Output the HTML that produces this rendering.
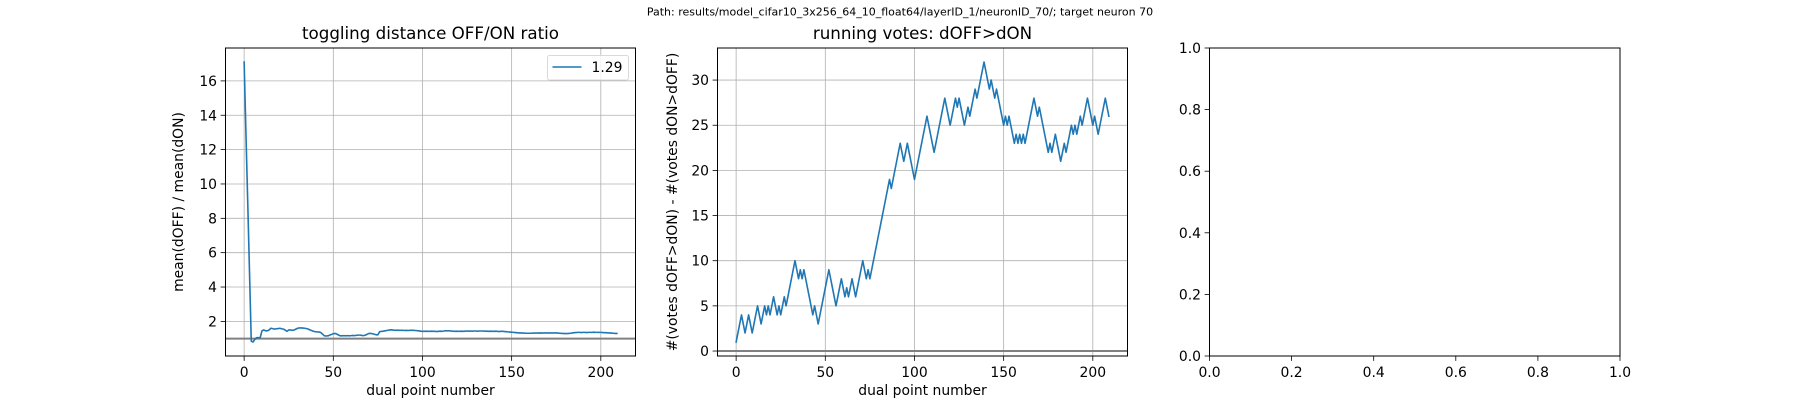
<!DOCTYPE html>
<html><head><meta charset="utf-8"><style>
html,body{margin:0;padding:0;background:#fff}
svg{display:block;font-family:"DejaVu Sans","Liberation Sans",sans-serif}
</style></head><body>
<svg id="fig" width="1800" height="400" viewBox="0 0 1800 400" xmlns="http://www.w3.org/2000/svg">
<rect width="1800" height="400" fill="#fff"/>
<text x="900" y="15.5" font-size="11" text-anchor="middle" fill="#000">Path: results/model_cifar10_3x256_64_10_float64/layerID_1/neuronID_70/; target neuron 70</text>
</svg>
<script>
const ratioValues = [17.1,13.0,9.0,4.9,0.85,
0.8,0.95,1.05,1.05,1.05, 1.45,1.5,1.45,1.45,1.5, 1.6,1.58,1.55,1.57,1.58,
1.6,1.57,1.55,1.5,1.42, 1.5,1.5,1.48,1.5,1.55, 1.6,1.62,1.62,1.61,1.6,
1.58,1.55,1.5,1.46,1.42, 1.4,1.39,1.38,1.35,1.25, 1.16,1.15,1.16,1.2,1.24,
1.28,1.3,1.26,1.2,1.16, 1.16,1.17,1.16,1.17,1.16, 1.17,1.18,1.17,1.19,1.2,
1.2,1.18,1.17,1.2,1.25, 1.3,1.3,1.28,1.25,1.22, 1.22,1.4,1.42,1.43,1.45,
1.47,1.49,1.51,1.5,1.49, 1.48,1.49,1.48,1.48,1.48, 1.47,1.48,1.47,1.48,1.48,
1.48,1.47,1.46,1.45,1.43, 1.42,1.42,1.43,1.42,1.42, 1.43,1.42,1.42,1.41,1.42,
1.43,1.42,1.44,1.45,1.45, 1.45,1.44,1.43,1.42,1.43, 1.42,1.42,1.43,1.42,1.43,
1.44,1.43,1.44,1.43,1.44, 1.44,1.43,1.44,1.44,1.44, 1.43,1.43,1.42,1.43,1.42,
1.42,1.43,1.42,1.41,1.42, 1.42,1.41,1.4,1.39,1.38, 1.37,1.36,1.35,1.34,1.33,
1.33,1.32,1.32,1.31,1.31, 1.31,1.31,1.32,1.32,1.32, 1.32,1.33,1.32,1.33,1.33,
1.33,1.32,1.33,1.33,1.33, 1.33,1.32,1.31,1.3,1.3, 1.29,1.29,1.3,1.31,1.33,
1.34,1.35,1.36,1.36,1.35, 1.36,1.36,1.35,1.36,1.36, 1.36,1.37,1.36,1.36,1.36,
1.36,1.35,1.34,1.34,1.33, 1.33,1.32,1.31,1.3,1.3];
const voteValues = [1,2,3,4,3,2,3,4,3,2,3,4,5,4,3,4,5,4,5,4,5,6,5,4,5,4,5,6,5,
6,7,8,9,10,9,8,9,8,9,8,7,6,5,4,5,4,3,4,5,6,7,8,9,8,7,6,5,6,7,8,7,6,7,6,7,8,7,6,
7,8,9,10,9,8,9,8,9,10,11,12,13,14,15,16,17,18,19,18,19,20,21,22,23,22,21,22,23,
22,21,20,19,20,21,22,23,24,25,26,25,24,23,22,23,24,25,26,27,28,27,26,25,26,27,28,
27,28,27,26,25,26,27,26,27,28,29,28,29,30,31,32,31,30,29,30,29,28,29,28,27,26,25,
26,25,26,25,24,23,24,23,24,23,24,23,24,25,26,27,28,27,26,27,26,25,24,23,22,23,22,
23,24,23,22,21,22,23,22,23,24,25,24,25,24,25,26,25,26,27,28,27,26,25,26,25,24,
25,26,27,28,27,26];
const ratioTicks = [2,4,6,8,10,12,14,16];
const voteTicks = [0,5,10,15,20,25,30];
const xTicks = [0,50,100,150,200];
const emptyTicks = [0,0.2,0.4,0.6,0.8,1.0];
const emptyTickLabels = ["0.0","0.2","0.4","0.6","0.8","1.0"];
const legendLabel = "1.29";

const NS="http://www.w3.org/2000/svg";
const fig=document.getElementById('fig');
function mk(tag,attrs,parent){const e=document.createElementNS(NS,tag);for(const k in attrs)e.setAttribute(k,attrs[k]);(parent||fig).appendChild(e);return e;}
function txt(s,attrs,parent){const e=mk('text',attrs,parent);e.textContent=s;return e;}
const TOP=48,BOT=356;
function axes(name,L,R,xmin,xmax,ymin,ymax){
  const g=mk('g',{});
  
  
  return {g,L,R,sx:v=>L+(v-xmin)/(xmax-xmin)*(R-L),sy:v=>BOT-(v-ymin)/(ymax-ymin)*(BOT-TOP)};
}
function frame(a){
  const r=mk('rect',{x:a.L,y:TOP,width:a.R-a.L,height:BOT-TOP,fill:'none',stroke:'#000','stroke-width':1},a.g);
  
  
}
function xticks(a,ticks,labels,grid){
  ticks.forEach((t,i)=>{const x=a.sx(t);
    if(grid){const gl=mk('line',{x1:x,x2:x,y1:TOP,y2:BOT,stroke:'#b0b0b0','stroke-width':0.8},a.g);
      
      }
    mk('line',{x1:x,x2:x,y1:BOT,y2:BOT+4.9,stroke:'#000','stroke-width':0.8},a.g);
    const tl=txt(labels?labels[i]:String(t),{x:x,y:377,'font-size':13.9,'text-anchor':'middle'},a.g);
    
    
  });
}
function yticks(a,ticks,labels,grid){
  ticks.forEach((t,i)=>{const y=a.sy(t);
    if(grid){const gl=mk('line',{x1:a.L,x2:a.R,y1:y,y2:y,stroke:'#b0b0b0','stroke-width':0.8},a.g);
      
      }
    mk('line',{x1:a.L-4.9,x2:a.L,y1:y,y2:y,stroke:'#000','stroke-width':0.8},a.g);
    const tl=txt(labels?labels[i]:String(t),{x:a.L-8.5,y:y+5,'font-size':13.9,'text-anchor':'end'},a.g);
    
    
  });
}
function series(a,vals,name){
  const pts=vals.map((v,i)=>a.sx(i).toFixed(2)+','+a.sy(v).toFixed(2)).join(' ');
  const p=mk('polyline',{points:pts,fill:'none',stroke:'#1f77b4','stroke-width':1.6,'stroke-linejoin':'round','stroke-linecap':'square'},a.g);
  
  
}
function hline(a,v){
  const l=mk('line',{x1:a.L,x2:a.R,y1:a.sy(v),y2:a.sy(v),stroke:'#808080','stroke-width':2},a.g);
  
  
}
function titles(a,title,ylab,ycx,xlab){
  const t=txt(title,{x:(a.L+a.R)/2,y:39,'font-size':16.7,'text-anchor':'middle'},a.g);
  
  
  if(ylab){const yl=txt(ylab,{x:0,y:0,'font-size':13.9,'text-anchor':'middle',transform:`translate(${ycx+5},${(TOP+BOT)/2}) rotate(-90)`},a.g);
    
    }
  if(xlab){const xl=txt(xlab,{x:(a.L+a.R)/2,y:395,'font-size':13.9,'text-anchor':'middle'},a.g);
    
    }
}
function autoX(n){const m=(n-1)*0.05;return [-m,n-1+m];}
function autoY(vals,extra){let lo=Math.min(...vals),hi=Math.max(...vals);if(extra!==undefined){lo=Math.min(lo,extra);hi=Math.max(hi,extra);}const m=(hi-lo)*0.05;return [lo-m,hi+m];}

// Axes 1
let [x0,x1]=autoX(ratioValues.length);let [y0,y1]=autoY(ratioValues,1);
const a1=axes('ratio-chart',225.5,635.5,x0,x1,y0,y1);
xticks(a1,xTicks,null,true);yticks(a1,ratioTicks,null,true);
hline(a1,1);series(a1,ratioValues,'ratio-series');frame(a1);
titles(a1,'toggling distance OFF/ON ratio','mean(dOFF) / mean(dON)',178,'dual point number');
const lg=mk('g',{},a1.g);


mk('rect',{x:547.5,y:55.5,width:81,height:24.5,rx:2,fill:'#fff','fill-opacity':0.8,stroke:'#d9d9d9','stroke-width':1},lg);
mk('line',{x1:552.5,x2:581.5,y1:67,y2:67,stroke:'#1f77b4','stroke-width':1.6},lg);
const lt=txt(legendLabel,{x:591.5,y:72,'font-size':13.9},lg);



// Axes 2
[x0,x1]=autoX(voteValues.length);[y0,y1]=autoY(voteValues);
const a2=axes('votes-chart',717.5,1127.5,x0,x1,y0,y1);
xticks(a2,xTicks,null,true);yticks(a2,voteTicks,null,true);
hline(a2,0);series(a2,voteValues,'votes-series');frame(a2);
titles(a2,'running votes: dOFF>dON','#(votes dOFF>dON) - #(votes dON>dOFF)',672,'dual point number');

// Axes 3 (empty)
const a3=axes('empty-chart',1209.5,1620,0,1,0,1);
xticks(a3,emptyTicks,emptyTickLabels,false);yticks(a3,emptyTicks,emptyTickLabels,false);frame(a3);
</script>
</body></html>
